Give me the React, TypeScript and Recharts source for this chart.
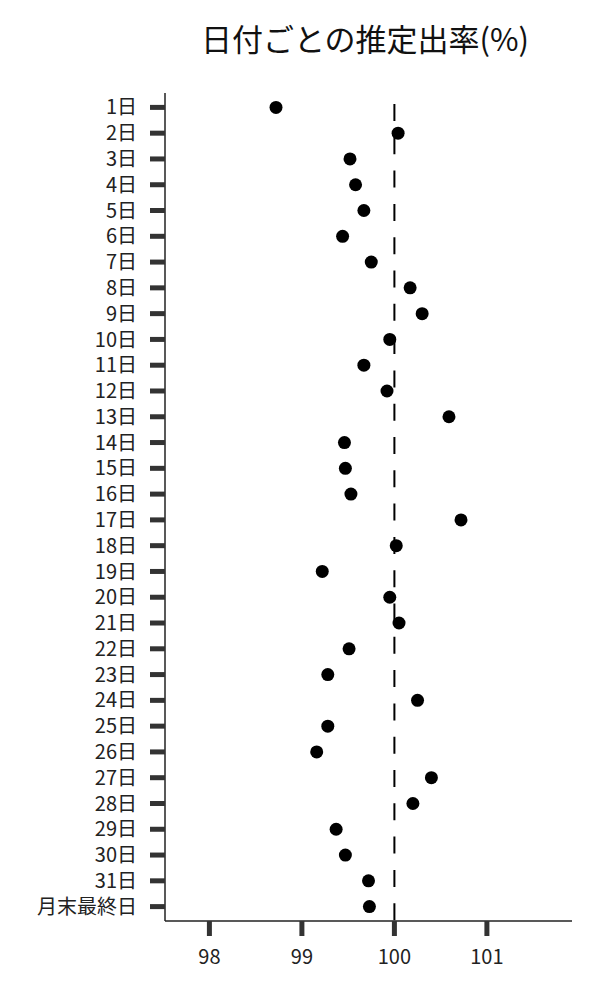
import React from 'react';
import {
  ScatterChart,
  Scatter,
  XAxis,
  YAxis,
  ReferenceLine,
} from 'recharts';

// categories, top to bottom
const days = [
  '1日', '2日', '3日', '4日', '5日', '6日', '7日', '8日', '9日', '10日',
  '11日', '12日', '13日', '14日', '15日', '16日', '17日', '18日', '19日', '20日',
  '21日', '22日', '23日', '24日', '25日', '26日', '27日', '28日', '29日', '30日',
  '31日', '月末最終日',
];

// estimated rate (%) per day
const rates = [
  98.72, 100.04, 99.52, 99.58, 99.67, 99.44, 99.75, 100.17, 100.3, 99.95,
  99.67, 99.92, 100.59, 99.46, 99.47, 99.53, 100.72, 100.02, 99.22, 99.95,
  100.05, 99.51, 99.28, 100.25, 99.28, 99.16, 100.4, 100.2, 99.37, 99.47,
  99.72, 99.73,
];

const xTicks = [98, 99, 100, 101];

const FONT = '"Noto Sans CJK JP", "Noto Sans", sans-serif';

const data = days.map((d, i) => ({ day: d, rate: rates[i] }));

const Dot = (props: any) => {
  const { cx, cy } = props;
  if (cx == null || cy == null) return null;
  return <circle cx={cx} cy={cy} r={6.5} fill="#000" />;
};

// dashed line drawn top-down so the dash phase matches
const DashedLine = (props: any) => {
  const { x1, y1, x2, y2 } = props;
  if (x1 == null) return null;
  const top = Math.min(y1, y2);
  const bottom = Math.max(y1, y2);
  return (
    <line
      x1={x1}
      y1={top}
      x2={x2}
      y2={bottom}
      stroke="#000"
      strokeWidth={2}
      strokeDasharray="17 16.3"
      strokeDashoffset={22.3}
    />
  );
};

export default function App() {
  return (
    <div style={{ position: 'absolute', left: 0, top: 0, width: 600, height: 1000, background: '#fff', fontFamily: FONT }}>
      <div
        style={{
          position: 'absolute',
          left: 0,
          width: 730,
          top: 20,
          textAlign: 'center',
          fontSize: 31,
          lineHeight: '36px',
          color: '#111',
        }}
      >
        日付ごとの推定出率(%)
      </div>
      <ScatterChart
        width={600}
        height={1000}
        margin={{ top: 93, right: 28, bottom: 29, left: 0 }}
      >
        <XAxis
          type="number"
          dataKey="rate"
          domain={[97.52, 101.92]}
          ticks={xTicks}
          allowDataOverflow
          height={50}
          tickSize={15}
          tickMargin={14}
          axisLine={{ stroke: '#222', strokeWidth: 1.5 }}
          tickLine={{ stroke: '#333', strokeWidth: 5 }}
          tick={{ fill: '#222', fontSize: 20, fontFamily: FONT }}
        />
        <YAxis
          type="category"
          dataKey="day"
          reversed
          width={165}
          interval={0}
          padding={{ top: 1.5, bottom: 1.5 }}
          tickSize={15}
          tickMargin={13}
          axisLine={{ stroke: '#222', strokeWidth: 1.5 }}
          tickLine={{ stroke: '#333', strokeWidth: 5 }}
          tick={{ fill: '#222', fontSize: 20, fontFamily: FONT }}
        />
        <ReferenceLine x={100} shape={<DashedLine />} />
        <Scatter data={data} isAnimationActive={false} shape={<Dot />} />
      </ScatterChart>
    </div>
  );
}
